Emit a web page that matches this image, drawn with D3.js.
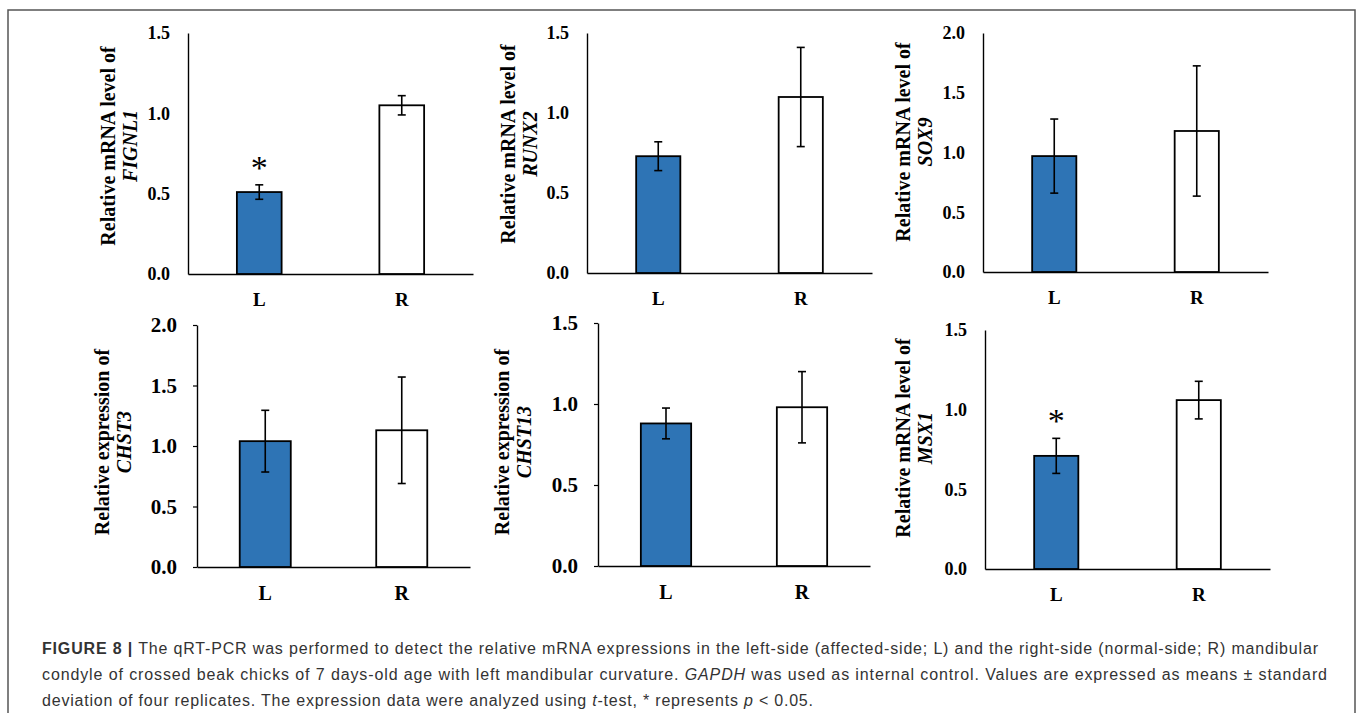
<!DOCTYPE html>
<html>
<head>
<meta charset="utf-8">
<script src="https://cdn.jsdelivr.net/npm/d3@7"></script>
<style>
  html, body { margin: 0; padding: 0; background: #fff; }
  svg { display: block; }
  .tick-label { font-family: "Liberation Serif", "Times New Roman", serif; font-weight: bold; fill: #000; }
  .ytitle { font-family: "Liberation Serif", "Times New Roman", serif; font-weight: bold; fill: #000; }
  .caption { font-family: "Liberation Sans", Arial, sans-serif; fill: #333; }
</style>
</head>
<body>
<svg id="fig" width="1358" height="713"></svg>
<script>
'use strict';

// chart values
var genes = ['FIGNL1', 'RUNX2', 'SOX9', 'CHST3', 'CHST13', 'MSX1'];
var titlePrefix = ['Relative mRNA level of', 'Relative mRNA level of', 'Relative mRNA level of',
  'Relative expression of', 'Relative expression of', 'Relative mRNA level of'];
var groups = ['L', 'R'];
var yMax = [1.5, 1.5, 2.0, 2.0, 1.5, 1.5];
var yTicks = [
  [0, 0.5, 1.0, 1.5],
  [0, 0.5, 1.0, 1.5],
  [0, 0.5, 1.0, 1.5, 2.0],
  [0, 0.5, 1.0, 1.5, 2.0],
  [0, 0.5, 1.0, 1.5],
  [0, 0.5, 1.0, 1.5]
];
var meanL = [0.51, 0.73, 0.97, 1.04, 0.88, 0.71];
var meanR = [1.05, 1.10, 1.18, 1.13, 0.98, 1.06];
var sdL = [0.045, 0.09, 0.31, 0.255, 0.095, 0.11];
var sdR = [0.06, 0.31, 0.545, 0.44, 0.22, 0.118];
var significant = [true, false, false, false, false, true];

// panel placement (pixels): axis origin x, top, baseline, right end
var panels = [
  { x0: 188, top: 33, bottom: 274, right: 473, pad: 0.686, tickFont: 18, xFont: 19, tickLen: 0, titleX: [108, 130], titleY: 146 },
  { x0: 587, top: 33, bottom: 273, right: 872, pad: 0.69, tickFont: 18, xFont: 19, tickLen: 0, titleX: [508, 530], titleY: 144 },
  { x0: 983, top: 33, bottom: 272, right: 1268, pad: 0.69, tickFont: 18, xFont: 19, tickLen: 0, titleX: [903, 925], titleY: 142 },
  { x0: 197, top: 325, bottom: 567, right: 470, pad: 0.626, tickFont: 21, xFont: 20, tickLen: 4, titleX: [102, 124], titleY: 442 },
  { x0: 598, top: 323, bottom: 566, right: 870, pad: 0.63, tickFont: 21, xFont: 20, tickLen: 4, titleX: [502, 524], titleY: 442 },
  { x0: 985, top: 330, bottom: 569, right: 1270, pad: 0.69, tickFont: 18, xFont: 19, tickLen: 0, titleX: [903, 925], titleY: 438 }
];

var BLUE = '#2e74b5';
var svg = d3.select('#fig');

// outer frame
svg.append('path')
  .attr('d', 'M8,713 L8,10 L1355,10 L1355,713')
  .attr('fill', 'none')
  .attr('stroke', '#555')
  .attr('stroke-width', 1.5);

panels.forEach(function(p, i) {
  var w = p.right - p.x0;
  var g = svg.append('g').attr('transform', 'translate(' + p.x0 + ',0)');

  var y = d3.scaleLinear().domain([0, yMax[i]]).range([p.bottom, p.top]);
  var x = d3.scaleBand().domain(groups).range([0, w])
    .paddingInner(p.pad).paddingOuter(p.pad / 2);

  var rows = groups.map(function(k, j) {
    return { key: k, mean: j === 0 ? meanL[i] : meanR[i], sd: j === 0 ? sdL[i] : sdR[i] };
  });

  // y axis
  var yAxis = d3.axisLeft(y).tickValues(yTicks[i]).tickFormat(d3.format('.1f'))
    .tickSizeInner(p.tickLen).tickSizeOuter(0).tickPadding(p.tickLen ? 16 : 18);
  var ya = g.append('g').call(yAxis);
  ya.attr('font-family', null).attr('font-size', null);
  ya.select('.domain').attr('stroke', '#000').attr('stroke-width', 1.4);
  ya.selectAll('.tick line').attr('stroke', '#000').attr('stroke-width', 1.2);
  ya.selectAll('.tick text').attr('class', 'tick-label')
    .style('font-size', p.tickFont + 'px');

  // x axis
  var xAxis = d3.axisBottom(x).tickSize(0).tickPadding(19);
  var xa = g.append('g').attr('transform', 'translate(0,' + p.bottom + ')').call(xAxis);
  xa.attr('font-family', null).attr('font-size', null);
  xa.select('.domain').attr('stroke', '#000').attr('stroke-width', 1.4);
  xa.selectAll('.tick text').attr('class', 'tick-label')
    .style('font-size', p.xFont + 'px');

  // bars
  g.selectAll('rect.bar').data(rows).enter().append('rect')
    .attr('class', 'bar')
    .attr('x', function(d) { return x(d.key); })
    .attr('width', x.bandwidth())
    .attr('y', function(d) { return y(d.mean); })
    .attr('height', function(d) { return y(0) - y(d.mean); })
    .attr('fill', function(d) { return d.key === 'L' ? BLUE : '#fff'; })
    .attr('stroke', '#000')
    .attr('stroke-width', 1.8);

  // error bars
  var cap = 4;
  var eb = g.selectAll('g.err').data(rows).enter().append('g').attr('class', 'err')
    .attr('stroke', '#000').attr('stroke-width', 1.6);
  eb.append('line')
    .attr('x1', function(d) { return x(d.key) + x.bandwidth() / 2; })
    .attr('x2', function(d) { return x(d.key) + x.bandwidth() / 2; })
    .attr('y1', function(d) { return y(d.mean + d.sd); })
    .attr('y2', function(d) { return y(d.mean - d.sd); });
  [1, -1].forEach(function(s) {
    eb.append('line')
      .attr('x1', function(d) { return x(d.key) + x.bandwidth() / 2 - cap; })
      .attr('x2', function(d) { return x(d.key) + x.bandwidth() / 2 + cap; })
      .attr('y1', function(d) { return y(d.mean + s * d.sd); })
      .attr('y2', function(d) { return y(d.mean + s * d.sd); });
  });

  // significance mark
  if (significant[i]) {
    g.append('text')
      .attr('x', x('L') + x.bandwidth() / 2)
      .attr('y', y(meanL[i] + sdL[i]) - 6)
      .attr('text-anchor', 'middle')
      .style('font-family', '"Liberation Serif", serif')
      .style('font-size', '34px')
      .text('*');
  }

  // y title, two lines
  svg.append('text').attr('class', 'ytitle')
    .attr('transform', 'translate(' + p.titleX[0] + ',' + p.titleY + ') rotate(-90)')
    .attr('text-anchor', 'middle').attr('dominant-baseline', 'central')
    .style('font-size', '20px')
    .text(titlePrefix[i]);
  svg.append('text').attr('class', 'ytitle')
    .attr('transform', 'translate(' + p.titleX[1] + ',' + p.titleY + ') rotate(-90)')
    .attr('text-anchor', 'middle').attr('dominant-baseline', 'central')
    .style('font-size', '20px').style('font-style', 'italic')
    .text(genes[i]);
});

// caption
var capLines = [
  [['FIGURE 8 | ', 'b'], ['The qRT-PCR was performed to detect the relative mRNA expressions in the left-side (affected-side; L) and the right-side (normal-side; R) mandibular', '']],
  [['condyle of crossed beak chicks of 7 days-old age with left mandibular curvature. ', ''], ['GAPDH', 'i'], [' was used as internal control. Values are expressed as means \u00b1 standard', '']],
  [['deviation of four replicates. The expression data were analyzed using ', ''], ['t', 'i'], ['-test, * represents ', ''], ['p', 'i'], [' < 0.05.', '']]
];
var capWidth = [1276, 1285, 771];
var capBase = [654, 680, 706];

capLines.forEach(function(parts, k) {
  var t = svg.append('text').attr('class', 'caption')
    .attr('x', 42).attr('y', capBase[k])
    .style('font-size', '16px');
  parts.forEach(function(pt) {
    t.append('tspan')
      .style('font-weight', pt[1] === 'b' ? 'bold' : null)
      .style('font-style', pt[1] === 'i' ? 'italic' : null)
      .text(pt[0]);
  });
  t.attr('textLength', capWidth[k]).attr('lengthAdjust', 'spacing');
});
</script>
</body>
</html>
